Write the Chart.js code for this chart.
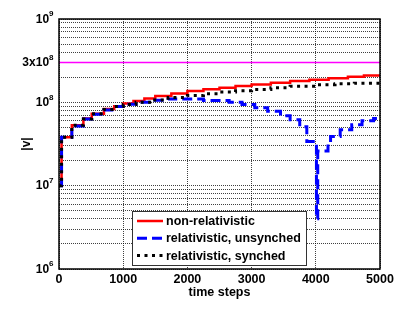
<!DOCTYPE html>
<html>
<head>
<meta charset="utf-8">
<script src="https://cdn.jsdelivr.net/npm/chart.js@4"></script>
<style>
  html, body { margin: 0; padding: 0; background: #fff; }
</style>
</head>
<body>
<canvas id="myChart" width="415" height="312"></canvas>
<script>
const FONT = '"Liberation Sans", Arial, Helvetica, sans-serif';

// ----------- Data ----------- //
const lightSpeed = 3e8;

// time step where each stair starts, and the value from there on
const nonRelSteps  = [0, 40, 200, 380, 510, 700, 860, 1000, 1160, 1330, 1500, 1750, 2000, 2250, 2500, 2750, 3000, 3300, 3600, 3900, 4200, 4500, 4750, 5000];
const nonRelValues = [1e7, 3.8e7, 5.3e7, 6.4e7, 7.3e7, 8.3e7, 9.0e7, 9.7e7, 1.04e8, 1.11e8, 1.19e8, 1.28e8, 1.37e8, 1.44e8, 1.5e8, 1.57e8, 1.64e8, 1.72e8, 1.8e8, 1.87e8, 1.95e8, 2.03e8, 2.1e8, 2.17e8];

const unsyncSteps  = [0, 40, 200, 380, 510, 700, 860, 1000, 1200, 1450, 1700, 2250, 2650, 2850, 3050, 3250, 3450, 3600, 3750, 3860, 4010, 4030, 4190, 4230, 4380, 4560, 4720, 4900, 5000];
const unsyncValues = [1e7, 3.8e7, 5.2e7, 6.3e7, 7.2e7, 8.1e7, 8.9e7, 9.5e7, 1.0e8, 1.06e8, 1.1e8, 1.05e8, 1.0e8, 9.4e7, 8.6e7, 7.8e7, 6.9e7, 6.2e7, 5.1e7, 3.4e7, 4e6, 2.6e7, 3.2e7, 3.9e7, 4.7e7, 5.4e7, 6.0e7, 6.4e7, 6.4e7];

const syncSteps  = [0, 40, 200, 380, 510, 700, 860, 1000, 1200, 1450, 1700, 2000, 2250, 2500, 2750, 3000, 3300, 3600, 4000, 4300, 4600, 5000];
const syncValues = [1e7, 3.8e7, 5.3e7, 6.3e7, 7.3e7, 8.2e7, 8.9e7, 9.4e7, 1.0e8, 1.07e8, 1.14e8, 1.21e8, 1.27e8, 1.33e8, 1.38e8, 1.43e8, 1.5e8, 1.56e8, 1.63e8, 1.67e8, 1.7e8, 1.73e8];

const seriesLabels = ['non-relativistic', 'relativistic, unsynched', 'relativistic, synched'];

const xRange = [0, 5000];
const xTickValues = [0, 1000, 2000, 3000, 4000, 5000];
const yRange = [1e6, 1e9];
const yGridValues = [];
for (let e = 6; e < 9; e++) for (let m = 1; m < 10; m++) yGridValues.push(m * Math.pow(10, e));
yGridValues.push(1e9);

const yLabelValues = [1e6, 1e7, 1e8, 3e8, 1e9];
const yLabelBases  = ['10', '10', '10', '3x10', '10'];
const yLabelExps   = ['6', '7', '8', '8', '9'];

const points = (xs, ys) => xs.map((x, i) => ({ x: x, y: ys[i] }));


// ----------- Drawing extras ----------- //
const extrasPlugin = {
    id: 'extras',
    afterDraw(chart) {
        const { ctx, chartArea: a, scales: { y } } = chart;
        ctx.save();

        // frame round the plot
        ctx.strokeStyle = '#000';
        ctx.lineWidth = 1.5;
        ctx.strokeRect(a.left, a.top, a.right - a.left, a.bottom - a.top);

        // y tick labels with superscripts
        ctx.fillStyle = '#000';
        ctx.textBaseline = 'middle';
        ctx.textAlign = 'right';
        yLabelValues.forEach((v, i) => {
            const py = y.getPixelForValue(v);
            const right = a.left - 5.5;
            ctx.font = 'bold 8px ' + FONT;
            const supW = ctx.measureText(yLabelExps[i]).width;
            ctx.fillText(yLabelExps[i], right, py - 5);
            ctx.font = 'bold 12px ' + FONT;
            ctx.fillText(yLabelBases[i], right - supW, py + 0.5);
        });

        // y axis title
        ctx.save();
        ctx.translate(27, (a.top + a.bottom) / 2);
        ctx.rotate(-Math.PI / 2);
        ctx.textAlign = 'center';
        ctx.font = 'bold 12px ' + FONT;
        ctx.fillText('|v|', 0, 0);
        ctx.restore();

        // legend box
        const bx = a.left + 73, by = a.bottom - 58, bw = 174, bh = 54;
        ctx.fillStyle = '#fff';
        ctx.fillRect(bx, by, bw, bh);
        ctx.strokeStyle = '#333';
        ctx.lineWidth = 1;
        ctx.strokeRect(bx + 0.5, by + 0.5, bw, bh);
        [0, 1, 2].forEach((k, i) => {
            const ds = chart.data.datasets[k];
            const ly = by + 10 + i * 17.3;
            ctx.strokeStyle = ds.borderColor;
            ctx.lineWidth = ds.borderWidth;
            ctx.setLineDash(ds.borderDash || []);
            ctx.beginPath();
            ctx.moveTo(bx + 5, ly);
            ctx.lineTo(bx + 31, ly);
            ctx.stroke();
            ctx.setLineDash([]);
            ctx.fillStyle = '#000';
            ctx.textAlign = 'left';
            ctx.font = 'bold 12.5px ' + FONT;
            ctx.fillText(ds.label, bx + 34, ly + 0.5);
        });

        ctx.restore();
    }
};


// ----------- Chart js Stuff ----------- //
const ctx = document.getElementById('myChart');
const chart = new Chart(ctx, {
    type: 'line',
    data: {
        datasets: [{
            label: seriesLabels[0],
            data: points(nonRelSteps, nonRelValues),
            borderColor: '#ff0000',
            borderWidth: 2.5,
            stepped: true,
            order: 2
        }, {
            label: seriesLabels[1],
            data: points(unsyncSteps, unsyncValues),
            borderColor: '#0000ff',
            borderWidth: 3,
            borderDash: [10, 5],
            stepped: true,
            order: 1
        }, {
            label: seriesLabels[2],
            data: points(syncSteps, syncValues),
            borderColor: '#000000',
            borderWidth: 3,
            borderDash: [3, 4.5],
            stepped: true,
            order: 0
        }, {
            label: 'c',
            data: points(xRange, [lightSpeed, lightSpeed]),
            borderColor: '#ff00ff',
            borderWidth: 1.5,
            order: 3
        }]
    },
    options: {
        responsive: false,
        animation: false,
        events: [],
        elements: { point: { radius: 0 }, line: { tension: 0, fill: false } },
        layout: { padding: { top: 19, right: 35, left: 0, bottom: 0 } },
        plugins: {
            legend: { display: false },
            tooltip: { enabled: false }
        },
        scales: {
            x: {
                type: 'linear',
                min: xRange[0],
                max: xRange[1],
                afterBuildTicks: scale => { scale.ticks = xTickValues.map(v => ({ value: v })); },
                afterFit: scale => { scale.height = 43; },
                ticks: {
                    color: '#000',
                    font: { family: FONT, size: 12.5, weight: 'bold' },
                    padding: 3,
                    maxRotation: 0,
                    callback: v => String(v)
                },
                grid: { color: 'rgba(0,0,0,0.75)', lineWidth: 1, drawTicks: false },
                border: { display: false, dash: [1, 1] },
                title: {
                    display: true,
                    text: 'time steps',
                    color: '#000',
                    font: { family: FONT, size: 12.5, weight: 'bold' },
                    padding: { top: 0, bottom: 12 }
                }
            },
            y: {
                type: 'logarithmic',
                min: yRange[0],
                max: yRange[1],
                afterBuildTicks: scale => { scale.ticks = yGridValues.map(v => ({ value: v })); },
                afterFit: scale => { scale.width = 59; },
                ticks: { display: false },
                grid: { color: 'rgba(0,0,0,0.75)', lineWidth: 1, drawTicks: false },
                border: { display: false, dash: [1, 1] }
            }
        }
    },
    plugins: [extrasPlugin]
});
</script>
</body>
</html>
